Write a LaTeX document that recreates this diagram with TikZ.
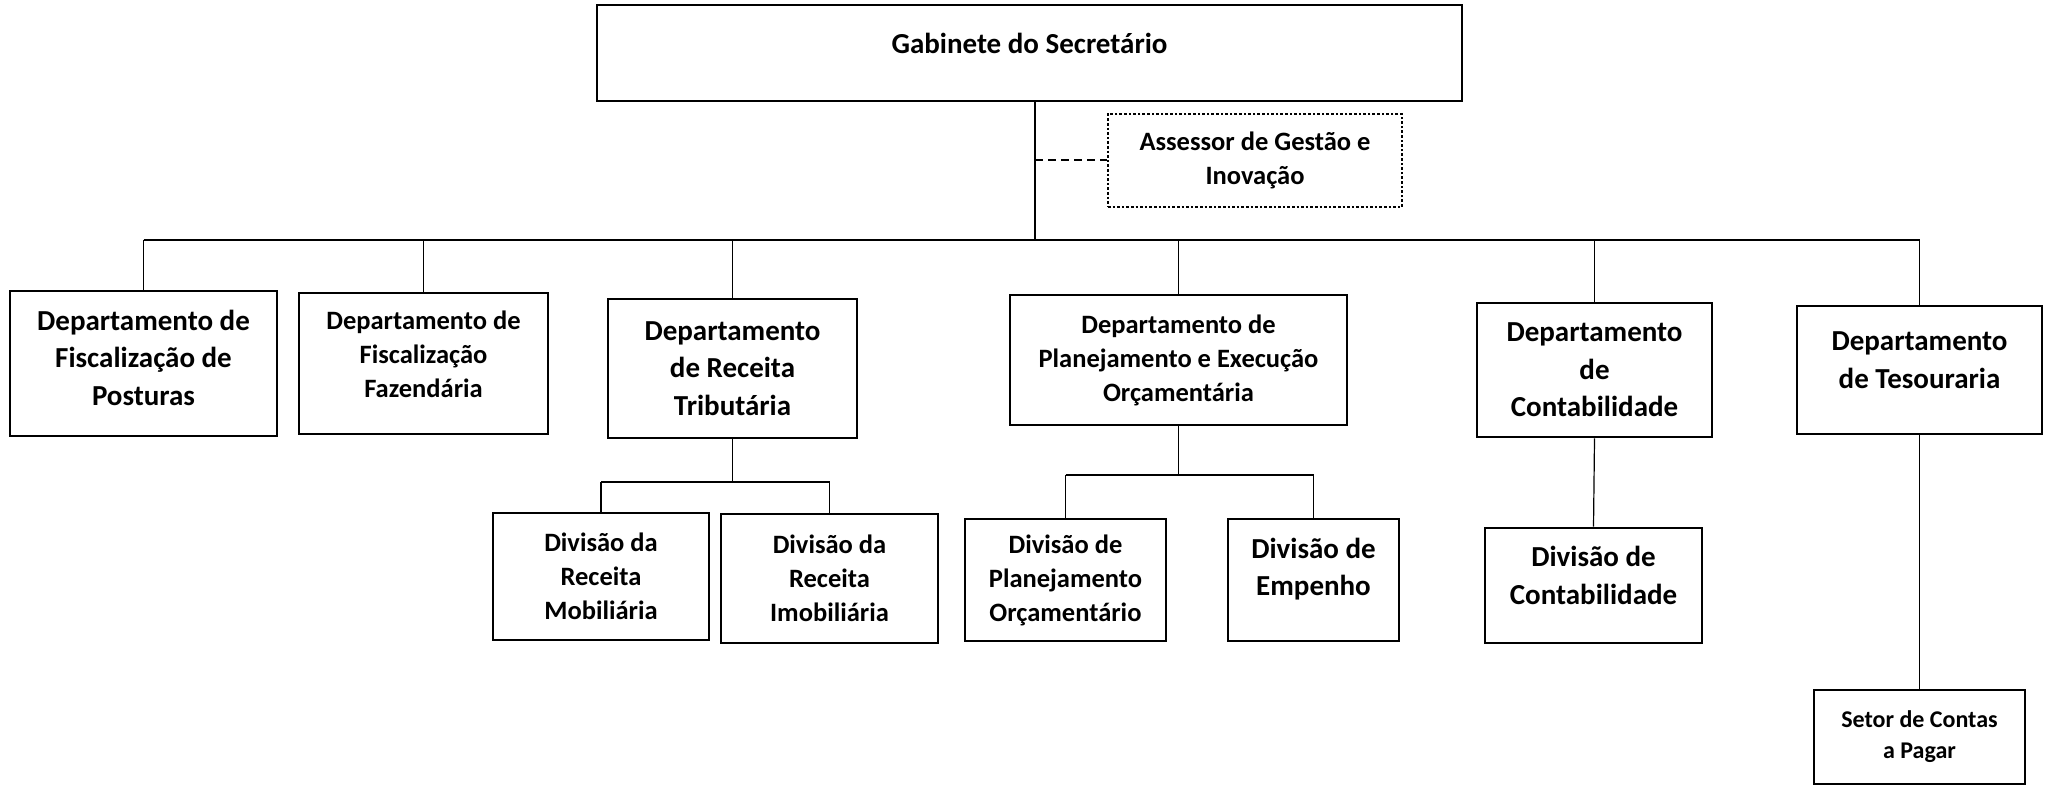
\documentclass[tikz,border=0pt]{standalone}
\usepackage{fontspec}
\setmainfont{Carlito}

\begin{document}
\begin{tikzpicture}[x=1pt, y=-1pt]
\tikzstyle{box}=[draw, line width=2.6pt, align=center, inner sep=2pt]
\tikzstyle{txtL}=[font=\fontsize{29}{37.5}\selectfont\bfseries]
\tikzstyle{txtM}=[font=\fontsize{26.5}{34}\selectfont\bfseries]
\tikzstyle{txtS}=[font=\fontsize{24}{31}\selectfont\bfseries]
\tikzstyle{lnk}=[line width=1.2pt]

\useasboundingbox (0,0) rectangle (2049,786);

\node[box, txtL, minimum width=865pt, minimum height=96pt, text depth=20pt] (gab) at (1029.5,53) {Gabinete do Secretário};
\node[box, txtM, dotted, line width=2pt, minimum width=294pt, minimum height=93pt] (ass) at (1255,160.5) {Assessor de Gestão e\\Inovação};

\node[box, txtL, minimum width=267pt, minimum height=145pt, text depth=12pt] (d1) at (143.5,363.5) {Departamento de\\Fiscalização de\\Posturas};
\node[box, txtM, minimum width=249pt, minimum height=141pt, text depth=18pt] (d2) at (423.5,363.5) {Departamento de\\Fiscalização\\Fazendária};
\node[box, txtL, minimum width=249pt, minimum height=139pt] (d3) at (732.5,368.5) {Departamento\\de Receita\\Tributária};
\node[box, txtM, minimum width=337pt, minimum height=130pt] (d4) at (1178.5,360) {Departamento de\\Planejamento e Execução\\Orçamentária};
\node[box, txtL, minimum width=235pt, minimum height=134pt] (d5) at (1594.5,370) {Departamento\\de\\Contabilidade};
\node[box, txtL, minimum width=245pt, minimum height=128pt, text depth=20pt] (d6) at (1919.5,370) {Departamento\\de Tesouraria};

\node[box, txtM, minimum width=216pt, minimum height=127pt] (mob) at (601,576.5) {Divisão da\\Receita\\Mobiliária};
\node[box, txtM, minimum width=217pt, minimum height=129pt] (imob) at (829.5,578.5) {Divisão da\\Receita\\Imobiliária};
\node[box, txtM, minimum width=201pt, minimum height=122pt] (dplan) at (1065.5,580) {Divisão de\\Planejamento\\Orçamentário};
\node[box, txtL, minimum width=171pt, minimum height=122pt, text depth=26pt] (emp) at (1313.5,580) {Divisão de\\Empenho};
\node[box, txtL, minimum width=217pt, minimum height=115pt, text depth=20pt] (dcont) at (1593.5,585.5) {Divisão de\\Contabilidade};
\node[box, txtS, minimum width=211pt, minimum height=94pt] (setor) at (1919.5,737) {Setor de Contas\\a Pagar};

\coordinate (bus) at (1035,240);
\coordinate (trib) at (732.5,482);
\coordinate (orc) at (1178.5,475);

% ligacoes
\draw[lnk] (gab.south -| bus) -- (bus);
\draw[lnk, dash pattern=on 8pt off 5pt, line width=2pt] (ass.west -| bus) -- (ass.west);
\draw[lnk] (d1.north |- bus) -- (d6.north |- bus);
\foreach \n in {d1,d2,d3,d4,d5,d6}
  \draw[lnk] (\n.north |- bus) -- (\n.north);

\draw[lnk] (d3.south) -- (trib);
\draw[lnk] (mob.north |- trib) -- (imob.north |- trib);
\draw[lnk] (mob.north |- trib) -- (mob.north);
\draw[lnk] (imob.north |- trib) -- (imob.north);

\draw[lnk] (d4.south) -- (orc);
\draw[lnk] (dplan.north |- orc) -- (emp.north |- orc);
\draw[lnk] (dplan.north |- orc) -- (dplan.north);
\draw[lnk] (emp.north |- orc) -- (emp.north);

\draw[lnk] (d5.south) -- (dcont.north);
\draw[lnk] (d6.south) -- (setor.north);
\end{tikzpicture}
\end{document}
